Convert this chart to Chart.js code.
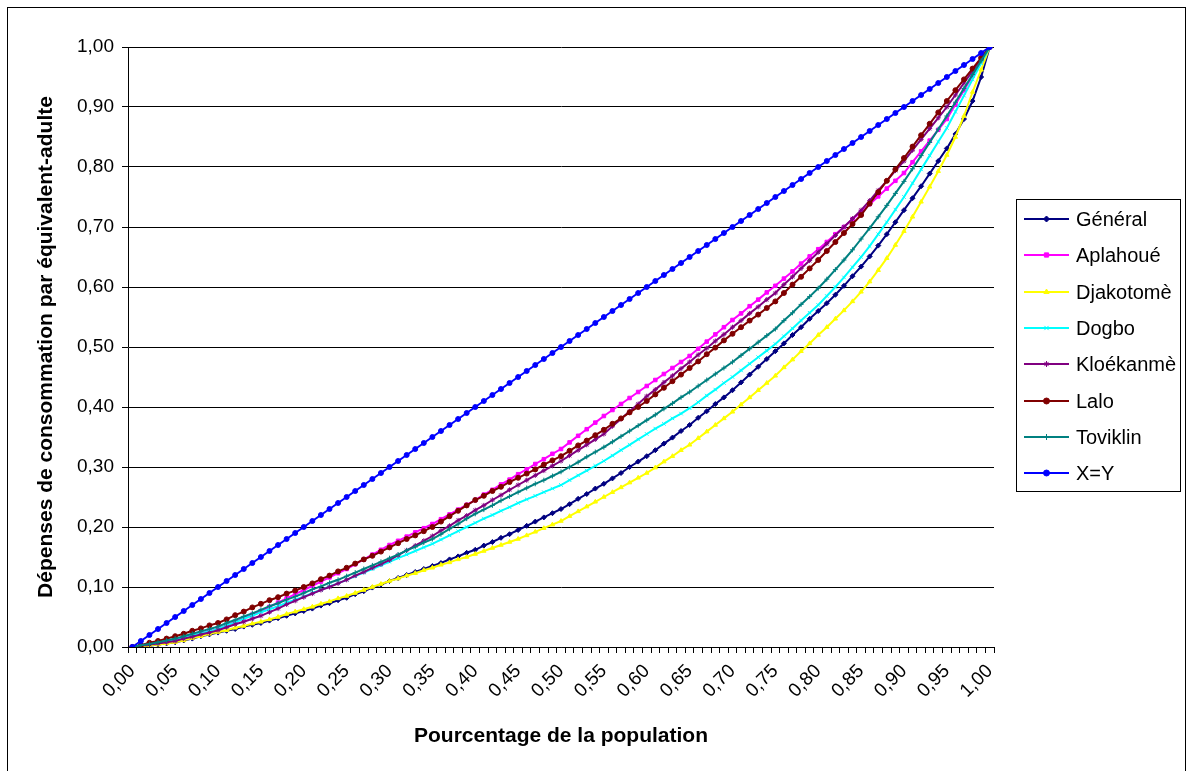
<!DOCTYPE html>
<html lang="fr">
<head>
<meta charset="UTF-8">
<title>Courbes de Lorenz</title>
<script src="https://cdn.jsdelivr.net/npm/chart.js"></script>
<style>
    body { margin: 0; background: #fff; }
    #wrap { width: 1190px; height: 771px; position: relative; }
</style>
</head>
<body>
<div id="wrap"><canvas id="lorenz" width="1190" height="771"></canvas></div>
<script>
const categories = [
    '0,00','0,01','0,02','0,03','0,04','0,05','0,06','0,07','0,08','0,09','0,10',
    '0,11','0,12','0,13','0,14','0,15','0,16','0,17','0,18','0,19','0,20',
    '0,21','0,22','0,23','0,24','0,25','0,26','0,27','0,28','0,29','0,30',
    '0,31','0,32','0,33','0,34','0,35','0,36','0,37','0,38','0,39','0,40',
    '0,41','0,42','0,43','0,44','0,45','0,46','0,47','0,48','0,49','0,50',
    '0,51','0,52','0,53','0,54','0,55','0,56','0,57','0,58','0,59','0,60',
    '0,61','0,62','0,63','0,64','0,65','0,66','0,67','0,68','0,69','0,70',
    '0,71','0,72','0,73','0,74','0,75','0,76','0,77','0,78','0,79','0,80',
    '0,81','0,82','0,83','0,84','0,85','0,86','0,87','0,88','0,89','0,90',
    '0,91','0,92','0,93','0,94','0,95','0,96','0,97','0,98','0,99','1,00'
];

const general = [
    0, .001, .002, .004, .006, .008, .011, .014, .018, .021, .024,
    .027, .030, .034, .037, .040, .044, .048, .052, .056, .060,
    .064, .069, .073, .078, .082, .088, .093, .099, .104, .110,
    .115, .120, .125, .130, .135, .140, .146, .151, .157, .162,
    .169, .175, .182, .188, .195, .202, .209, .216, .223, .230,
    .238, .247, .255, .264, .272, .281, .290, .300, .309, .318,
    .328, .339, .349, .360, .370, .382, .393, .405, .416, .428,
    .441, .454, .467, .480, .493, .506, .520, .533, .547, .560,
    .573, .587, .602, .618, .634, .651, .669, .688, .708, .728,
    .748, .768, .789, .810, .831, .855, .880, .910, .950, 1.0
];
const aplahoue = [
    0, .002, .004, .007, .010, .013, .016, .019, .023, .026, .030,
    .036, .042, .048, .054, .060, .067, .074, .081, .088, .095,
    .102, .109, .116, .123, .130, .138, .146, .154, .162, .170,
    .177, .184, .191, .198, .205, .213, .221, .229, .237, .245,
    .254, .262, .271, .279, .288, .296, .305, .313, .322, .330,
    .341, .352, .363, .374, .385, .395, .405, .415, .425, .435,
    .445, .455, .465, .475, .485, .497, .509, .521, .533, .545,
    .556, .568, .579, .591, .602, .614, .626, .639, .651, .663,
    .675, .688, .700, .713, .725, .738, .751, .764, .777, .790,
    .808, .826, .844, .862, .880, .904, .928, .952, .976, 1.0
];
const djakotome = [
    0, .001, .003, .004, .006, .008, .011, .015, .018, .022, .025,
    .028, .032, .035, .039, .042, .046, .050, .055, .059, .063,
    .067, .072, .076, .081, .085, .090, .095, .100, .105, .110,
    .114, .119, .123, .128, .132, .137, .141, .146, .150, .155,
    .160, .165, .170, .175, .180, .186, .192, .198, .204, .210,
    .218, .226, .234, .242, .250, .258, .266, .274, .282, .290,
    .299, .309, .318, .328, .337, .348, .359, .370, .381, .392,
    .404, .416, .428, .440, .452, .466, .479, .493, .506, .520,
    .533, .547, .561, .576, .592, .609, .628, .648, .670, .693,
    .717, .742, .767, .793, .820, .850, .885, .925, .962, 1.0
];
const dogbo = [
    0, .002, .005, .007, .010, .012, .016, .019, .023, .026, .030,
    .036, .041, .047, .052, .058, .063, .068, .074, .079, .084,
    .090, .095, .101, .106, .112, .118, .124, .130, .136, .142,
    .148, .154, .160, .166, .172, .179, .186, .193, .200, .207,
    .214, .220, .227, .233, .240, .246, .252, .258, .264, .270,
    .278, .286, .294, .302, .310, .319, .328, .337, .346, .355,
    .364, .372, .381, .389, .398, .408, .419, .429, .440, .450,
    .461, .472, .483, .494, .505, .518, .531, .544, .557, .570,
    .585, .600, .616, .633, .650, .668, .688, .708, .729, .750,
    .773, .796, .819, .842, .865, .892, .919, .946, .973, 1.0
];
const kloekanme = [
    0, .002, .004, .006, .008, .010, .014, .017, .021, .024, .028,
    .033, .038, .042, .047, .052, .058, .064, .071, .077, .083,
    .089, .095, .100, .106, .112, .119, .125, .132, .138, .145,
    .153, .161, .169, .177, .185, .194, .202, .211, .219, .228,
    .236, .245, .253, .262, .270, .278, .286, .294, .302, .310,
    .319, .328, .337, .346, .355, .368, .380, .393, .405, .418,
    .429, .441, .452, .464, .475, .487, .498, .510, .521, .533,
    .544, .556, .567, .579, .590, .604, .617, .631, .644, .658,
    .672, .686, .700, .714, .728, .744, .761, .777, .794, .810,
    .828, .846, .864, .882, .900, .920, .940, .960, .980, 1.0
];
const lalo = [
    0, .003, .007, .010, .014, .018, .022, .027, .031, .036, .040,
    .046, .053, .059, .066, .072, .078, .083, .089, .094, .100,
    .106, .113, .119, .126, .132, .139, .146, .152, .159, .166,
    .173, .180, .186, .193, .200, .209, .218, .227, .236, .245,
    .252, .260, .267, .275, .282, .289, .296, .304, .311, .318,
    .327, .336, .344, .353, .362, .372, .381, .391, .400, .410,
    .421, .432, .443, .454, .465, .476, .488, .499, .511, .522,
    .533, .544, .554, .565, .576, .590, .604, .617, .631, .645,
    .660, .675, .690, .705, .720, .739, .758, .777, .796, .815,
    .834, .853, .872, .891, .910, .928, .946, .964, .982, 1.0
];
const toviklin = [
    0, .003, .005, .008, .011, .014, .018, .022, .026, .030, .034,
    .040, .045, .051, .056, .062, .068, .073, .079, .084, .090,
    .096, .101, .107, .112, .118, .124, .130, .136, .142, .148,
    .154, .161, .167, .174, .180, .188, .197, .205, .214, .222,
    .229, .236, .244, .251, .258, .265, .272, .278, .285, .292,
    .300, .308, .317, .325, .333, .342, .351, .360, .369, .378,
    .387, .397, .406, .416, .425, .435, .445, .455, .465, .475,
    .486, .497, .508, .519, .530, .544, .557, .571, .584, .598,
    .613, .629, .645, .662, .680, .698, .717, .736, .756, .776,
    .797, .819, .841, .863, .885, .908, .931, .954, .977, 1.0
];
const egalite = [
    0, .01, .02, .03, .04, .05, .06, .07, .08, .09, .10,
    .11, .12, .13, .14, .15, .16, .17, .18, .19, .20,
    .21, .22, .23, .24, .25, .26, .27, .28, .29, .30,
    .31, .32, .33, .34, .35, .36, .37, .38, .39, .40,
    .41, .42, .43, .44, .45, .46, .47, .48, .49, .50,
    .51, .52, .53, .54, .55, .56, .57, .58, .59, .60,
    .61, .62, .63, .64, .65, .66, .67, .68, .69, .70,
    .71, .72, .73, .74, .75, .76, .77, .78, .79, .80,
    .81, .82, .83, .84, .85, .86, .87, .88, .89, .90,
    .91, .92, .93, .94, .95, .96, .97, .98, .99, 1.0
];

const seriesNames = ['Général', 'Aplahoué', 'Djakotomè', 'Dogbo', 'Kloékanmè', 'Lalo', 'Toviklin', 'X=Y'];
const seriesValues = [general, aplahoue, djakotome, dogbo, kloekanme, lalo, toviklin, egalite];
const seriesColors = ['#000080', '#FF00FF', '#FFFF00', '#00FFFF', '#800080', '#800000', '#008080', '#0000FF'];
const seriesMarkers = ['rectRot', 'rect', 'triangle', 'crossRot', 'star', 'circle', 'cross', 'circle'];

const FONT = '"Liberation Sans", Arial, sans-serif';
Chart.defaults.font.family = FONT;
Chart.defaults.color = '#000';

// legende encadree a droite, comme dans Excel
const boxLegend = {
    id: 'boxLegend',
    afterDraw(chart) {
        const ctx = chart.ctx;
        ctx.save();
        ctx.strokeStyle = '#000';
        ctx.lineWidth = 1;
        ctx.strokeRect(7.5, 7.5, 1178, 790);
        ctx.strokeRect(1016.5, 199.5, 164, 292);
        chart.data.datasets.forEach((ds, i) => {
            const y = Math.round(219 + i * 36.3);
            ctx.strokeStyle = ds.borderColor;
            ctx.fillStyle = ds.borderColor;
            ctx.lineWidth = 2;
            ctx.beginPath();
            ctx.moveTo(1024, y);
            ctx.lineTo(1069, y);
            ctx.stroke();
            ctx.lineWidth = 1;
            if (Chart.helpers && Chart.helpers.drawPoint) {
                Chart.helpers.drawPoint(ctx, { pointStyle: ds.pointStyle, radius: 3, borderWidth: 1, rotation: 0 }, 1046.5, y);
            }
            ctx.fillStyle = '#000';
            ctx.font = '20px ' + FONT;
            ctx.textBaseline = 'middle';
            ctx.textAlign = 'left';
            ctx.fillText(ds.label, 1076, y + 1);
        });
        ctx.restore();
    }
};

const lorenzChart = new Chart(document.getElementById('lorenz').getContext('2d'), {
    type: 'line',
    data: {
        labels: categories,
        datasets: seriesValues.map((vals, i) => ({
            label: seriesNames[i],
            data: vals,
            borderColor: seriesColors[i],
            backgroundColor: seriesColors[i],
            borderWidth: 2,
            pointStyle: seriesMarkers[i],
            pointRadius: 2.5,
            pointBorderWidth: 1,
            tension: 0,
            fill: false,
            order: 7 - i
        }))
    },
    options: {
        responsive: false,
        animation: false,
        devicePixelRatio: 1,
        layout: { padding: { left: 8, top: 47, right: 196, bottom: 0 } },
        plugins: {
            legend: { display: false },
            tooltip: { enabled: false }
        },
        scales: {
            x: {
                type: 'category',
                offset: true,
                grid: { offset: true, drawOnChartArea: false, tickLength: 6, color: '#000' },
                border: { color: '#000', width: 1 },
                ticks: {
                    autoSkip: false,
                    minRotation: 45,
                    maxRotation: 45,
                    padding: 7,
                    font: { size: 19 },
                    callback: function(value, index) {
                        return index % 5 === 0 ? categories[index] : '';
                    }
                },
                title: {
                    display: true,
                    text: 'Pourcentage de la population',
                    font: { size: 21, weight: 'bold' },
                    padding: { top: 0, bottom: 22 }
                },
                afterFit: function(scale) { scale.height = 124; }
            },
            y: {
                min: 0,
                max: 1,
                grid: { color: '#000', tickLength: 6 },
                border: { color: '#000', width: 1 },
                ticks: {
                    stepSize: 0.1,
                    padding: 8,
                    font: { size: 19 },
                    callback: function(value) { return Number(value).toFixed(2).replace('.', ','); }
                },
                title: {
                    display: true,
                    text: 'Dépenses de consommation par équivalent-adulte',
                    font: { size: 21, weight: 'bold' },
                    padding: { top: 26, bottom: 0 }
                },
                afterFit: function(scale) { scale.width = 120; }
            }
        }
    },
    plugins: [boxLegend]
});
</script>
</body>
</html>
